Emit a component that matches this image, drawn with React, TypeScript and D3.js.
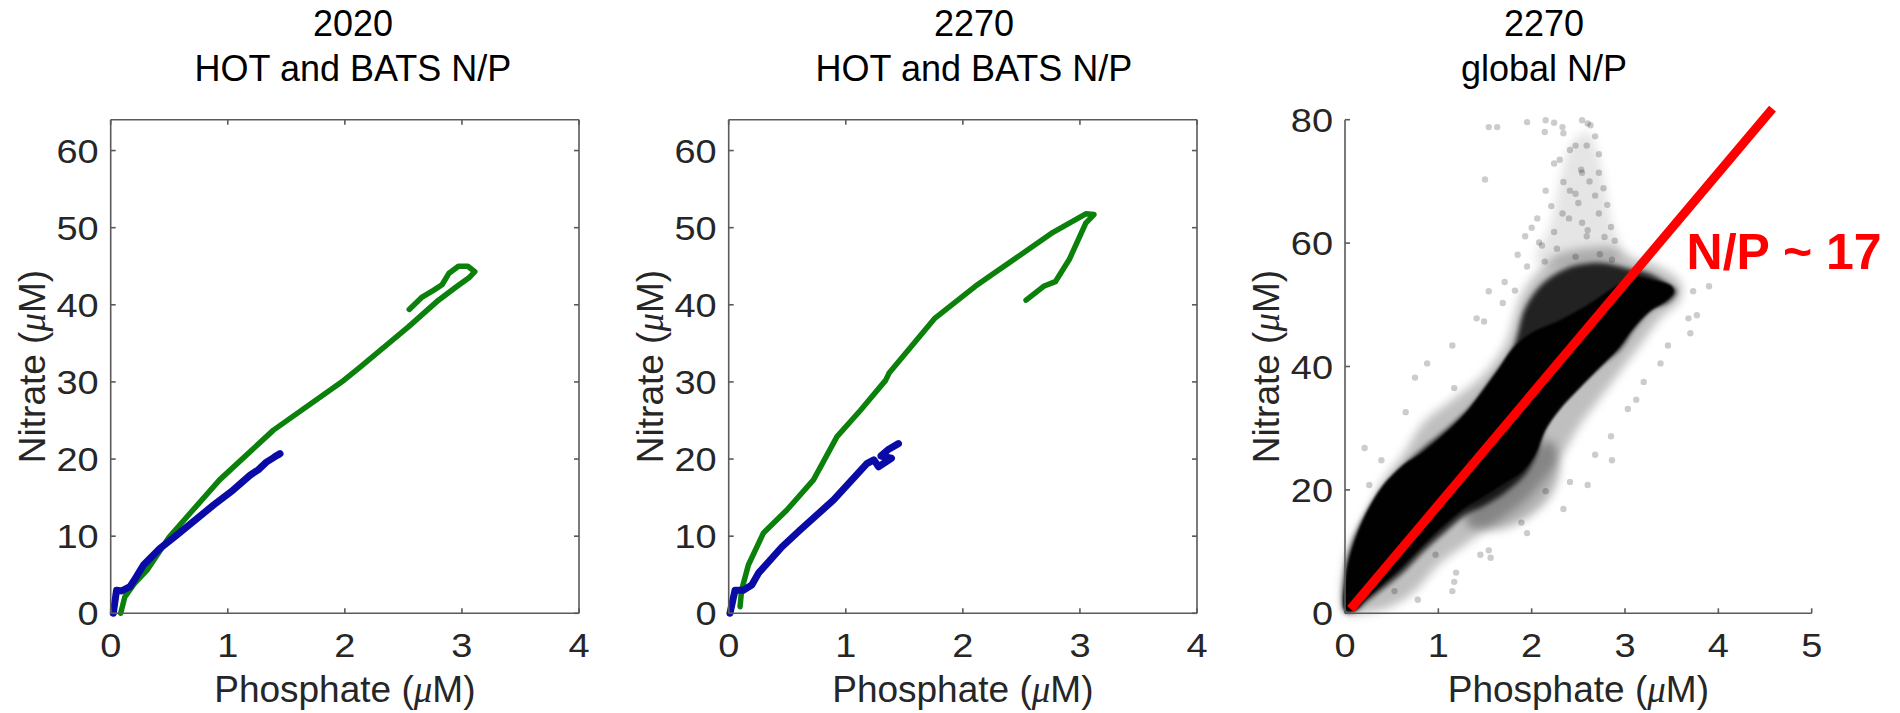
import React from "react";
import * as d3 from "d3";

// ---------- DATA ----------
type Pt = [number, number]; // [phosphate µM, nitrate µM]

const xTicksHB = [0, 1, 2, 3, 4];
const yTicksHB = [0, 10, 20, 30, 40, 50, 60];
const xTicksGlobal = [0, 1, 2, 3, 4, 5];
const yTicksGlobal = [0, 20, 40, 60, 80];

const titles2020 = ["2020", "HOT and BATS N/P"];
const titles2270 = ["2270", "HOT and BATS N/P"];
const titlesGlobal = ["2270", "global N/P"];

// 2020: HOT (green) and BATS (blue) profiles
const hot2020: Pt[] = [
  [0.085, 0], [0.12, 2.1], [0.2, 3.8], [0.31, 5.6], [0.5, 9.9], [0.68, 13.0],
  [0.93, 17.3], [1.39, 23.75], [1.99, 30.2], [2.12, 31.8], [2.54, 37.1],
  [2.8, 40.6], [2.95, 42.3], [3.06, 43.5], [3.11, 44.3], [3.05, 45.0],
  [2.97, 45.0], [2.89, 44.1], [2.83, 42.6], [2.76, 41.9], [2.66, 41.0], [2.55, 39.4],
];
const bats2020: Pt[] = [
  [0.022, 0], [0.05, 3.0], [0.094, 2.9], [0.165, 3.45], [0.22, 4.75], [0.28, 6.26],
  [0.42, 8.4], [0.56, 10.1], [0.876, 14.0], [1.047, 16.0], [1.19, 17.9],
  [1.26, 18.6], [1.33, 19.6], [1.446, 20.7], [1.4, 20.3], [1.44, 20.6],
];

// 2270: HOT (green) and BATS (blue) profiles
const hot2270: Pt[] = [
  [0.097, 0.86], [0.11, 3.0], [0.168, 6.26], [0.296, 10.4], [0.497, 13.4],
  [0.724, 17.3], [0.925, 22.9], [1.124, 26.3], [1.34, 30.2], [1.372, 31.2],
  [1.757, 38.2], [2.106, 42.4], [2.21, 43.5], [2.77, 49.4], [3.05, 51.8],
  [3.12, 51.7], [3.05, 50.6], [2.91, 45.9], [2.79, 43.0], [2.69, 42.4], [2.54, 40.6],
];
const bats2270: Pt[] = [
  [0.011, 0], [0.054, 3.0], [0.125, 3.0], [0.197, 3.67], [0.254, 5.2], [0.454, 8.6],
  [0.61, 10.8], [0.896, 14.7], [1.18, 19.4], [1.24, 19.9], [1.28, 19.0],
  [1.39, 20.1], [1.3, 20.4], [1.36, 21.2], [1.45, 22.0],
];

// 2270 global scatter, described as density envelopes + sparse outliers
const globalHalo: Pt[] = [
  [0.0, 0.1], [0.0, 8.0], [0.05, 11.0], [0.23, 16.1], [0.4, 21.3], [0.62, 25.7],
  [0.84, 30.9], [1.15, 34.6], [1.45, 38.2], [1.71, 43.4], [1.89, 51.5],
  [2.06, 55.2], [2.28, 58.1], [2.59, 59.2], [2.89, 59.2], [3.11, 57.4],
  [3.29, 56.7], [3.59, 53.7], [3.59, 50.8], [3.38, 47.8], [3.16, 43.4],
  [2.94, 39.0], [2.72, 34.6], [2.5, 30.1], [2.33, 25.7], [2.15, 22.0],
  [1.93, 18.3], [1.54, 13.9], [1.28, 11.0], [1.01, 8.0], [0.75, 3.6],
  [0.53, 1.4], [0.23, 0.1],
];
const globalPlume: Pt[] = [
  [2.05, 57], [2.2, 63], [2.3, 70], [2.42, 76], [2.6, 78], [2.75, 72], [2.85, 64], [2.95, 58],
];
const globalLowerLobe: Pt[] = [
  [1.3, 14.5], [1.6, 13.5], [1.9, 15.0], [2.2, 19.0], [2.3, 24.0], [2.2, 28.0],
  [2.0, 26.0], [1.7, 21.5], [1.4, 18.5],
];
const globalMid: Pt[] = [
  [0.0, 0.3], [0.0, 7.0], [0.08, 11.5], [0.2, 15.5], [0.38, 19.8], [0.6, 23.5],
  [0.84, 26.8], [1.1, 30.0], [1.35, 33.5], [1.6, 38.5], [1.8, 43.0],
  [1.93, 49.5], [2.12, 53.5], [2.37, 55.9], [2.59, 56.7], [2.81, 56.7],
  [3.03, 55.9], [3.24, 55.2], [3.46, 53.4], [3.55, 52.2], [3.46, 50.4],
  [3.29, 49.3], [3.11, 46.4], [2.94, 42.7], [2.76, 40.5], [2.54, 37.5],
  [2.33, 34.6], [2.15, 30.5], [2.06, 26.0], [1.93, 22.5], [1.71, 19.5],
  [1.5, 17.5], [1.28, 15.8], [1.06, 13.0], [0.84, 10.0], [0.62, 6.6],
  [0.4, 3.9], [0.23, 1.9], [0.1, 0.3],
];
const globalCore: Pt[] = [
  [0.0, 0.5], [0.01, 6.0], [0.05, 9.0], [0.14, 13.2], [0.25, 16.9], [0.4, 20.6],
  [0.62, 24.0], [0.84, 26.2], [1.06, 29.0], [1.28, 32.3], [1.45, 35.6],
  [1.63, 39.3], [1.8, 43.0], [2.0, 45.5], [2.3, 47.5], [2.6, 50.0],
  [2.9, 53.0], [3.1, 54.5], [3.3, 54.0], [3.5, 53.0], [3.52, 52.0],
  [3.42, 50.4], [3.27, 49.0], [3.09, 46.2], [2.92, 42.8], [2.74, 40.0],
  [2.52, 36.6], [2.3, 33.0], [2.14, 29.5], [2.04, 25.8], [1.9, 23.0],
  [1.7, 21.0], [1.5, 19.0], [1.28, 17.0], [1.04, 14.0], [0.82, 10.8],
  [0.6, 7.4], [0.38, 4.4], [0.22, 2.2], [0.1, 0.4],
];
const globalOutliers: Pt[] = [
  [1.54, 78.8], [1.63, 78.8], [2.15, 79.9], [2.24, 79.5], [2.33, 78.8], [2.54, 79.9],
  [2.63, 79.1], [2.68, 77.3], [2.72, 74.4], [2.59, 75.8], [2.41, 75.1], [2.24, 72.9],
  [2.54, 71.4], [2.72, 71.4], [1.5, 70.3], [2.15, 68.5], [2.41, 68.5], [2.68, 67.7],
  [2.81, 66.2], [2.06, 64.0], [2.33, 64.8], [2.54, 63.3], [2.72, 64.8], [2.85, 62.6],
  [1.93, 61.1], [2.24, 61.8], [2.59, 61.1], [2.89, 60.4], [1.85, 58.1], [2.11, 59.6],
  [1.71, 53.7], [1.54, 52.2], [0.88, 40.5], [0.75, 38.2], [1.15, 43.4], [1.41, 47.8],
  [0.21, 26.8], [3.9, 53.0], [3.73, 52.2], [3.68, 47.8], [3.46, 43.4], [3.2, 37.5],
  [3.03, 33.1], [2.85, 28.7], [2.68, 25.7], [2.41, 21.3], [2.15, 19.8], [1.89, 14.7],
  [1.54, 10.2], [1.45, 9.5], [1.19, 6.6], [0.97, 9.5], [0.53, 3.6], [1.15, 3.6],
  [1.95, 79.6], [2.14, 78.0], [2.34, 77.8], [2.47, 75.8], [2.6, 79.4], [2.53, 71.9],
  [2.34, 69.9], [2.47, 68.0], [2.21, 66.0], [2.4, 64.0], [2.6, 62.1], [2.08, 60.1],
  [2.27, 59.1], [2.47, 57.8], [1.95, 56.2], [2.14, 57.0], [1.82, 52.3], [1.69, 50.3],
  [2.73, 58.2], [2.86, 57.3], [1.49, 47.3], [1.17, 36.5], [0.65, 32.6], [0.39, 24.8],
  [0.26, 20.8], [2.86, 24.8], [2.6, 20.8], [2.34, 16.9], [1.95, 13.0], [1.56, 9.0],
  [1.17, 5.1], [0.78, 2.2], [3.12, 34.6], [3.38, 40.5], [3.7, 45.4], [3.77, 48.3],
  [2.5, 66.5], [2.62, 70.0], [2.77, 68.9], [2.3, 73.5], [2.78, 61.0], [2.0, 62.5],
];
const redfieldLine: Pt[] = [[0.06, 0.7], [4.58, 81.8]];
const redfieldLabel = { text: "N/P ~ 17", p: 3.66, n: 55.8 };

// ---------- LAYOUT ----------
const FONT = "'Liberation Sans', Arial, Helvetica, sans-serif";
const TOP = 119.7;
const BOTTOM = 613.3;
const AXIS_COLOR = "#5a5a5a";
const TICK_TEXT = "#262626";
const GREEN = "#0b800b";
const BLUE = "#0a0aa6";
const TICK_FS = 33;
const TICK_STRETCH = 1.15;

function Mu() {
  return (
    <tspan fontFamily="'Liberation Serif', 'DejaVu Serif', serif" fontStyle="italic">
      μ
    </tspan>
  );
}

type AxesProps = {
  left: number;
  right: number;
  xMax: number;
  yMax: number;
  xTicks: number[];
  yTicks: number[];
  box: boolean;
  titleX: number;
  title: string[];
  children: (x: d3.ScaleLinear<number, number>, y: d3.ScaleLinear<number, number>) => React.ReactNode;
};

function tickLen(t: number) {
  return String(t).length * 0.556 * TICK_FS * TICK_STRETCH;
}

function Axes({ left, right, xMax, yMax, xTicks, yTicks, box, titleX, title, children }: AxesProps) {
  const x = d3.scaleLinear().domain([0, xMax]).range([left, right]);
  const y = d3.scaleLinear().domain([0, yMax]).range([BOTTOM, TOP]);
  const tl = 5;
  const midX = (left + right) / 2;
  const midY = (TOP + BOTTOM) / 2;
  return (
    <g>
      {/* title */}
      <text x={titleX} y={36} textAnchor="middle" fontFamily={FONT} fontSize={36} fill="#000">
        {title[0]}
      </text>
      <text x={titleX} y={81} textAnchor="middle" fontFamily={FONT} fontSize={36} fill="#000">
        {title[1]}
      </text>
      {/* data */}
      {children(x, y)}
      {/* axes */}
      <g stroke={AXIS_COLOR} strokeWidth={1.6} fill="none">
        <line x1={left} x2={right} y1={BOTTOM} y2={BOTTOM} />
        <line x1={left} x2={left} y1={BOTTOM} y2={TOP} />
        {box && <line x1={left} x2={right} y1={TOP} y2={TOP} />}
        {box && <line x1={right} x2={right} y1={BOTTOM} y2={TOP} />}
        {xTicks.map((t) => (
          <g key={"xt" + t}>
            <line x1={x(t)} x2={x(t)} y1={BOTTOM} y2={BOTTOM - tl} />
            {box && <line x1={x(t)} x2={x(t)} y1={TOP} y2={TOP + tl} />}
          </g>
        ))}
        {yTicks.map((t) => (
          <g key={"yt" + t}>
            <line x1={left} x2={left + tl} y1={y(t)} y2={y(t)} />
            {box && <line x1={right} x2={right - tl} y1={y(t)} y2={y(t)} />}
          </g>
        ))}
      </g>
      {/* tick labels */}
      <g fontFamily={FONT} fontSize={TICK_FS} fill={TICK_TEXT}>
        {xTicks.map((t) => (
          <text
            key={"xl" + t}
            x={x(t)}
            y={657}
            textAnchor="middle"
            textLength={tickLen(t)}
            lengthAdjust="spacingAndGlyphs"
          >
            {t}
          </text>
        ))}
        {yTicks.map((t) => (
          <text
            key={"yl" + t}
            x={left - 12}
            y={y(t) + 12}
            textAnchor="end"
            textLength={tickLen(t)}
            lengthAdjust="spacingAndGlyphs"
          >
            {t}
          </text>
        ))}
      </g>
      {/* axis labels */}
      <text x={midX} y={702} textAnchor="middle" fontFamily={FONT} fontSize={37} fill={TICK_TEXT}>
        Phosphate (<Mu />M)
      </text>
      <text
        transform={`translate(${left - 66},${midY}) rotate(-90)`}
        textAnchor="middle"
        fontFamily={FONT}
        fontSize={37}
        fill={TICK_TEXT}
      >
        Nitrate (<Mu />M)
      </text>
    </g>
  );
}

function Profiles({ x, y, hot, bats }: { x: any; y: any; hot: Pt[]; bats: Pt[] }) {
  const line = d3
    .line<Pt>()
    .x((d) => x(d[0]))
    .y((d) => y(d[1]));
  return (
    <g fill="none" strokeLinejoin="round" strokeLinecap="round">
      <path d={line(hot) || ""} stroke={GREEN} strokeWidth={5.5} />
      <path d={line(bats) || ""} stroke={BLUE} strokeWidth={7} />
    </g>
  );
}

function GlobalScatter({ x, y }: { x: any; y: any }) {
  const area = d3
    .line<Pt>()
    .x((d) => x(d[0]))
    .y((d) => y(d[1]))
    .curve(d3.curveCatmullRomClosed.alpha(0.5));
  const line = d3
    .line<Pt>()
    .x((d) => x(d[0]))
    .y((d) => y(d[1]));
  return (
    <g>
      <defs>
        <filter id="blurHalo" x="-20%" y="-20%" width="140%" height="140%">
          <feGaussianBlur stdDeviation={5} />
        </filter>
        <filter id="blurMid" x="-20%" y="-20%" width="140%" height="140%">
          <feGaussianBlur stdDeviation={2.5} />
        </filter>
        <filter id="blurCore" x="-20%" y="-20%" width="140%" height="140%">
          <feGaussianBlur stdDeviation={1} />
        </filter>
      </defs>
      <path d={area(globalPlume) || ""} fill="#000" fillOpacity={0.1} filter="url(#blurHalo)" />
      <path d={area(globalHalo) || ""} fill="#000" fillOpacity={0.25} filter="url(#blurHalo)" />
      <path d={area(globalLowerLobe) || ""} fill="#000" fillOpacity={0.3} filter="url(#blurHalo)" />
      <path d={area(globalMid) || ""} fill="#000" fillOpacity={0.82} filter="url(#blurMid)" />
      <path d={area(globalCore) || ""} fill="#000" fillOpacity={0.98} filter="url(#blurCore)" />
      {globalOutliers.map((d, i) => (
        <circle key={i} cx={x(d[0])} cy={y(d[1])} r={3.2} fill="#000" fillOpacity={0.2} />
      ))}
      <path d={line(redfieldLine) || ""} stroke="#ff0000" strokeWidth={9} fill="none" />
      <text
        x={x(redfieldLabel.p)}
        y={y(redfieldLabel.n)}
        fontFamily={FONT}
        fontWeight="bold"
        fontSize={50}
        fill="#ff0000"
      >
        {redfieldLabel.text}
      </text>
    </g>
  );
}

export default function App() {
  return (
    <svg
      width={1900}
      height={713}
      viewBox="0 0 1900 713"
      style={{ position: "absolute", left: 0, top: 0, background: "#fff" }}
    >
      <rect x={0} y={0} width={1900} height={713} fill="#fff" />
      <Axes left={110.7} right={579} xMax={4} yMax={64} xTicks={xTicksHB} yTicks={yTicksHB} box titleX={353} title={titles2020}>
        {(x, y) => <Profiles x={x} y={y} hot={hot2020} bats={bats2020} />}
      </Axes>
      <Axes left={728.7} right={1197} xMax={4} yMax={64} xTicks={xTicksHB} yTicks={yTicksHB} box titleX={974} title={titles2270}>
        {(x, y) => <Profiles x={x} y={y} hot={hot2270} bats={bats2270} />}
      </Axes>
      <Axes left={1345} right={1811.7} xMax={5} yMax={80} xTicks={xTicksGlobal} yTicks={yTicksGlobal} box={false} titleX={1544} title={titlesGlobal}>
        {(x, y) => <GlobalScatter x={x} y={y} />}
      </Axes>
    </svg>
  );
}
